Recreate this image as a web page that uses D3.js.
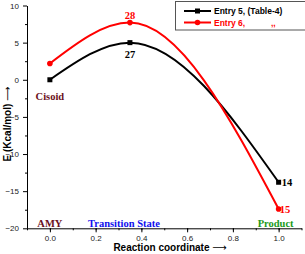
<!DOCTYPE html>
<html>
<head>
<meta charset="utf-8">
<script src="https://cdn.jsdelivr.net/npm/d3@7"></script>
<style>
  body { margin: 0; background: #fff; }
  svg text { font-family: Arial, "Liberation Sans", sans-serif; }
  .tick text { font-size: 8px; fill: #222; }
  .labels { font-size: 10px; font-weight: bold; fill: #000; }
  .arrow { font-family: "DejaVu Sans", sans-serif !important; font-weight: normal; }
  .note { font-family: "Liberation Serif", "Times New Roman", serif !important; font-weight: bold; font-size: 10.5px; }
</style>
</head>
<body>
<svg width="305" height="254"></svg>
<script>
// Reaction coordinate positions and energies
const coords = [0.0, 0.35, 1.0];
const entry5 = [0.0, 5.0, -13.8];
const entry6 = [2.2, 7.7, -17.4];
const seriesNames = ['Entry 5, (Table-4)', 'Entry 6,'];
const pointLabels5 = ['', '27', '14'];
const pointLabels6 = ['', '28', '15'];
const xTicks = [0, 0.2, 0.4, 0.6, 0.8, 1.0];
const yTicks = [-20, -15, -10, -5, 0, 5, 10];

const svg = d3.select('svg');

// Scales
const xScale = d3.scaleLinear().domain([-0.1, 1.1]).range([27, 301.5]);
const yScale = d3.scaleLinear().domain([-20, 10]).range([228.3, 5.5]);

// Minor ticks first (no labels)
svg.append('g')
    .attr('transform', `translate(0, ${yScale(-20)})`)
    .call(d3.axisBottom(xScale).tickValues(d3.range(-0.1, 1.11, 0.1)).tickSize(2).tickFormat(''))
    .select('.domain').remove();
svg.append('g')
    .attr('transform', `translate(${xScale(-0.1)}, 0)`)
    .call(d3.axisLeft(yScale).tickValues(d3.range(-17.5, 10, 5)).tickSize(2).tickFormat(''))
    .select('.domain').remove();

// x axis
svg.append('g')
    .attr('transform', `translate(0, ${yScale(-20)})`)
    .call(d3.axisBottom(xScale).tickValues(xTicks).tickSize(4).tickSizeOuter(0).tickFormat(d3.format('.1f')));

// y axis
const yAxisGroup = svg.append('g')
    .attr('transform', `translate(${xScale(-0.1)}, 0)`)
    .call(d3.axisLeft(yScale).tickValues(yTicks).tickSize(4).tickSizeOuter(0));
yAxisGroup.selectAll('.tick text').attr('dx', '-1');

// axis titles
const xTitle = svg.append('text')
    .attr('class', 'labels')
    .attr('x', 170)
    .attr('y', 251)
    .attr('text-anchor', 'middle')
    .text('Reaction coordinate ');
xTitle.append('tspan').attr('class', 'arrow').text('\u27F6');

const yTitle = svg.append('text')
    .attr('class', 'labels')
    .attr('transform', 'translate(11, 124) rotate(-90)')
    .attr('text-anchor', 'middle')
    .text('E (Kcal/mol) ');
yTitle.append('tspan').attr('class', 'arrow').text('\u27F6');

// curves
const line = d3.line()
    .x(d => xScale(d[0]))
    .y(d => yScale(d[1]))
    .curve(d3.curveMonotoneX);

const data5 = coords.map((c, i) => [c, entry5[i]]);
const data6 = coords.map((c, i) => [c, entry6[i]]);

svg.append('path').datum(data5)
    .attr('d', line).attr('fill', 'none').attr('stroke', '#000').attr('stroke-width', 2);
svg.append('path').datum(data6)
    .attr('d', line).attr('fill', 'none').attr('stroke', '#ff0000').attr('stroke-width', 2);

// markers
svg.selectAll('rect.m5').data(data5).enter().append('rect')
    .attr('class', 'm5')
    .attr('x', d => xScale(d[0]) - 2.5)
    .attr('y', d => yScale(d[1]) - 2.5)
    .attr('width', 5).attr('height', 5)
    .attr('fill', '#000');
svg.selectAll('circle.m6').data(data6).enter().append('circle')
    .attr('class', 'm6')
    .attr('cx', d => xScale(d[0]))
    .attr('cy', d => yScale(d[1]))
    .attr('r', 2.8)
    .attr('fill', '#ff0000');

// point numbers
svg.append('text').attr('class', 'note').attr('x', xScale(coords[1])).attr('y', yScale(entry5[1]) + 15)
    .attr('text-anchor', 'middle').attr('fill', '#000').text(pointLabels5[1]);
svg.append('text').attr('class', 'note').attr('x', xScale(coords[1])).attr('y', yScale(entry6[1]) - 4)
    .attr('text-anchor', 'middle').attr('fill', '#ff0000').text(pointLabels6[1]);
svg.append('text').attr('class', 'note').attr('x', xScale(coords[2]) + 3).attr('y', yScale(entry5[2]) + 4)
    .attr('fill', '#000').text(pointLabels5[2]);
svg.append('text').attr('class', 'note').attr('x', xScale(coords[2]) + 1).attr('y', yScale(entry6[2]) + 4)
    .attr('fill', '#ff0000').text(pointLabels6[2]);

// annotations
svg.append('text').attr('class', 'note').attr('x', xScale(0)).attr('y', 100)
    .attr('text-anchor', 'middle').attr('fill', '#6b1020').text('Cisoid');
svg.append('text').attr('class', 'note').attr('x', xScale(0)).attr('y', 227)
    .attr('text-anchor', 'middle').attr('fill', '#6b1020').text('AMY');
svg.append('text').attr('class', 'note').attr('x', 124).attr('y', 227)
    .attr('text-anchor', 'middle').attr('fill', '#1010ee').text('Transition State');
svg.append('text').attr('class', 'note').attr('x', xScale(1) - 3).attr('y', 227)
    .attr('text-anchor', 'middle').attr('fill', '#1a9a1a').text('Product');

// legend
const legend = svg.append('g');
legend.append('rect')
    .attr('x', 175.5).attr('y', 1.5).attr('width', 140).attr('height', 28.5)
    .attr('fill', '#fff').attr('stroke', '#555').attr('stroke-width', 1);
const legendColors = ['#000', '#ff0000'];
seriesNames.forEach((name, i) => {
    const ly = 11 + i * 11.5;
    legend.append('line')
        .attr('x1', 184).attr('x2', 211).attr('y1', ly).attr('y2', ly)
        .attr('stroke', legendColors[i]).attr('stroke-width', 2);
    if (i === 0) {
        legend.append('rect').attr('x', 195).attr('y', ly - 2.5).attr('width', 5).attr('height', 5).attr('fill', '#000');
    } else {
        legend.append('circle').attr('cx', 197.5).attr('cy', ly).attr('r', 2.8).attr('fill', '#ff0000');
    }
    legend.append('text')
        .attr('x', 214).attr('y', ly + 3)
        .attr('font-size', '8.5px').attr('font-weight', 'bold')
        .attr('fill', legendColors[i])
        .text(name);
});
legend.append('text')
    .attr('x', 271).attr('y', 25.5)
    .attr('font-size', '8.5px').attr('font-weight', 'bold')
    .attr('fill', '#ff0000')
    .text(',,');
</script>
</body>
</html>
